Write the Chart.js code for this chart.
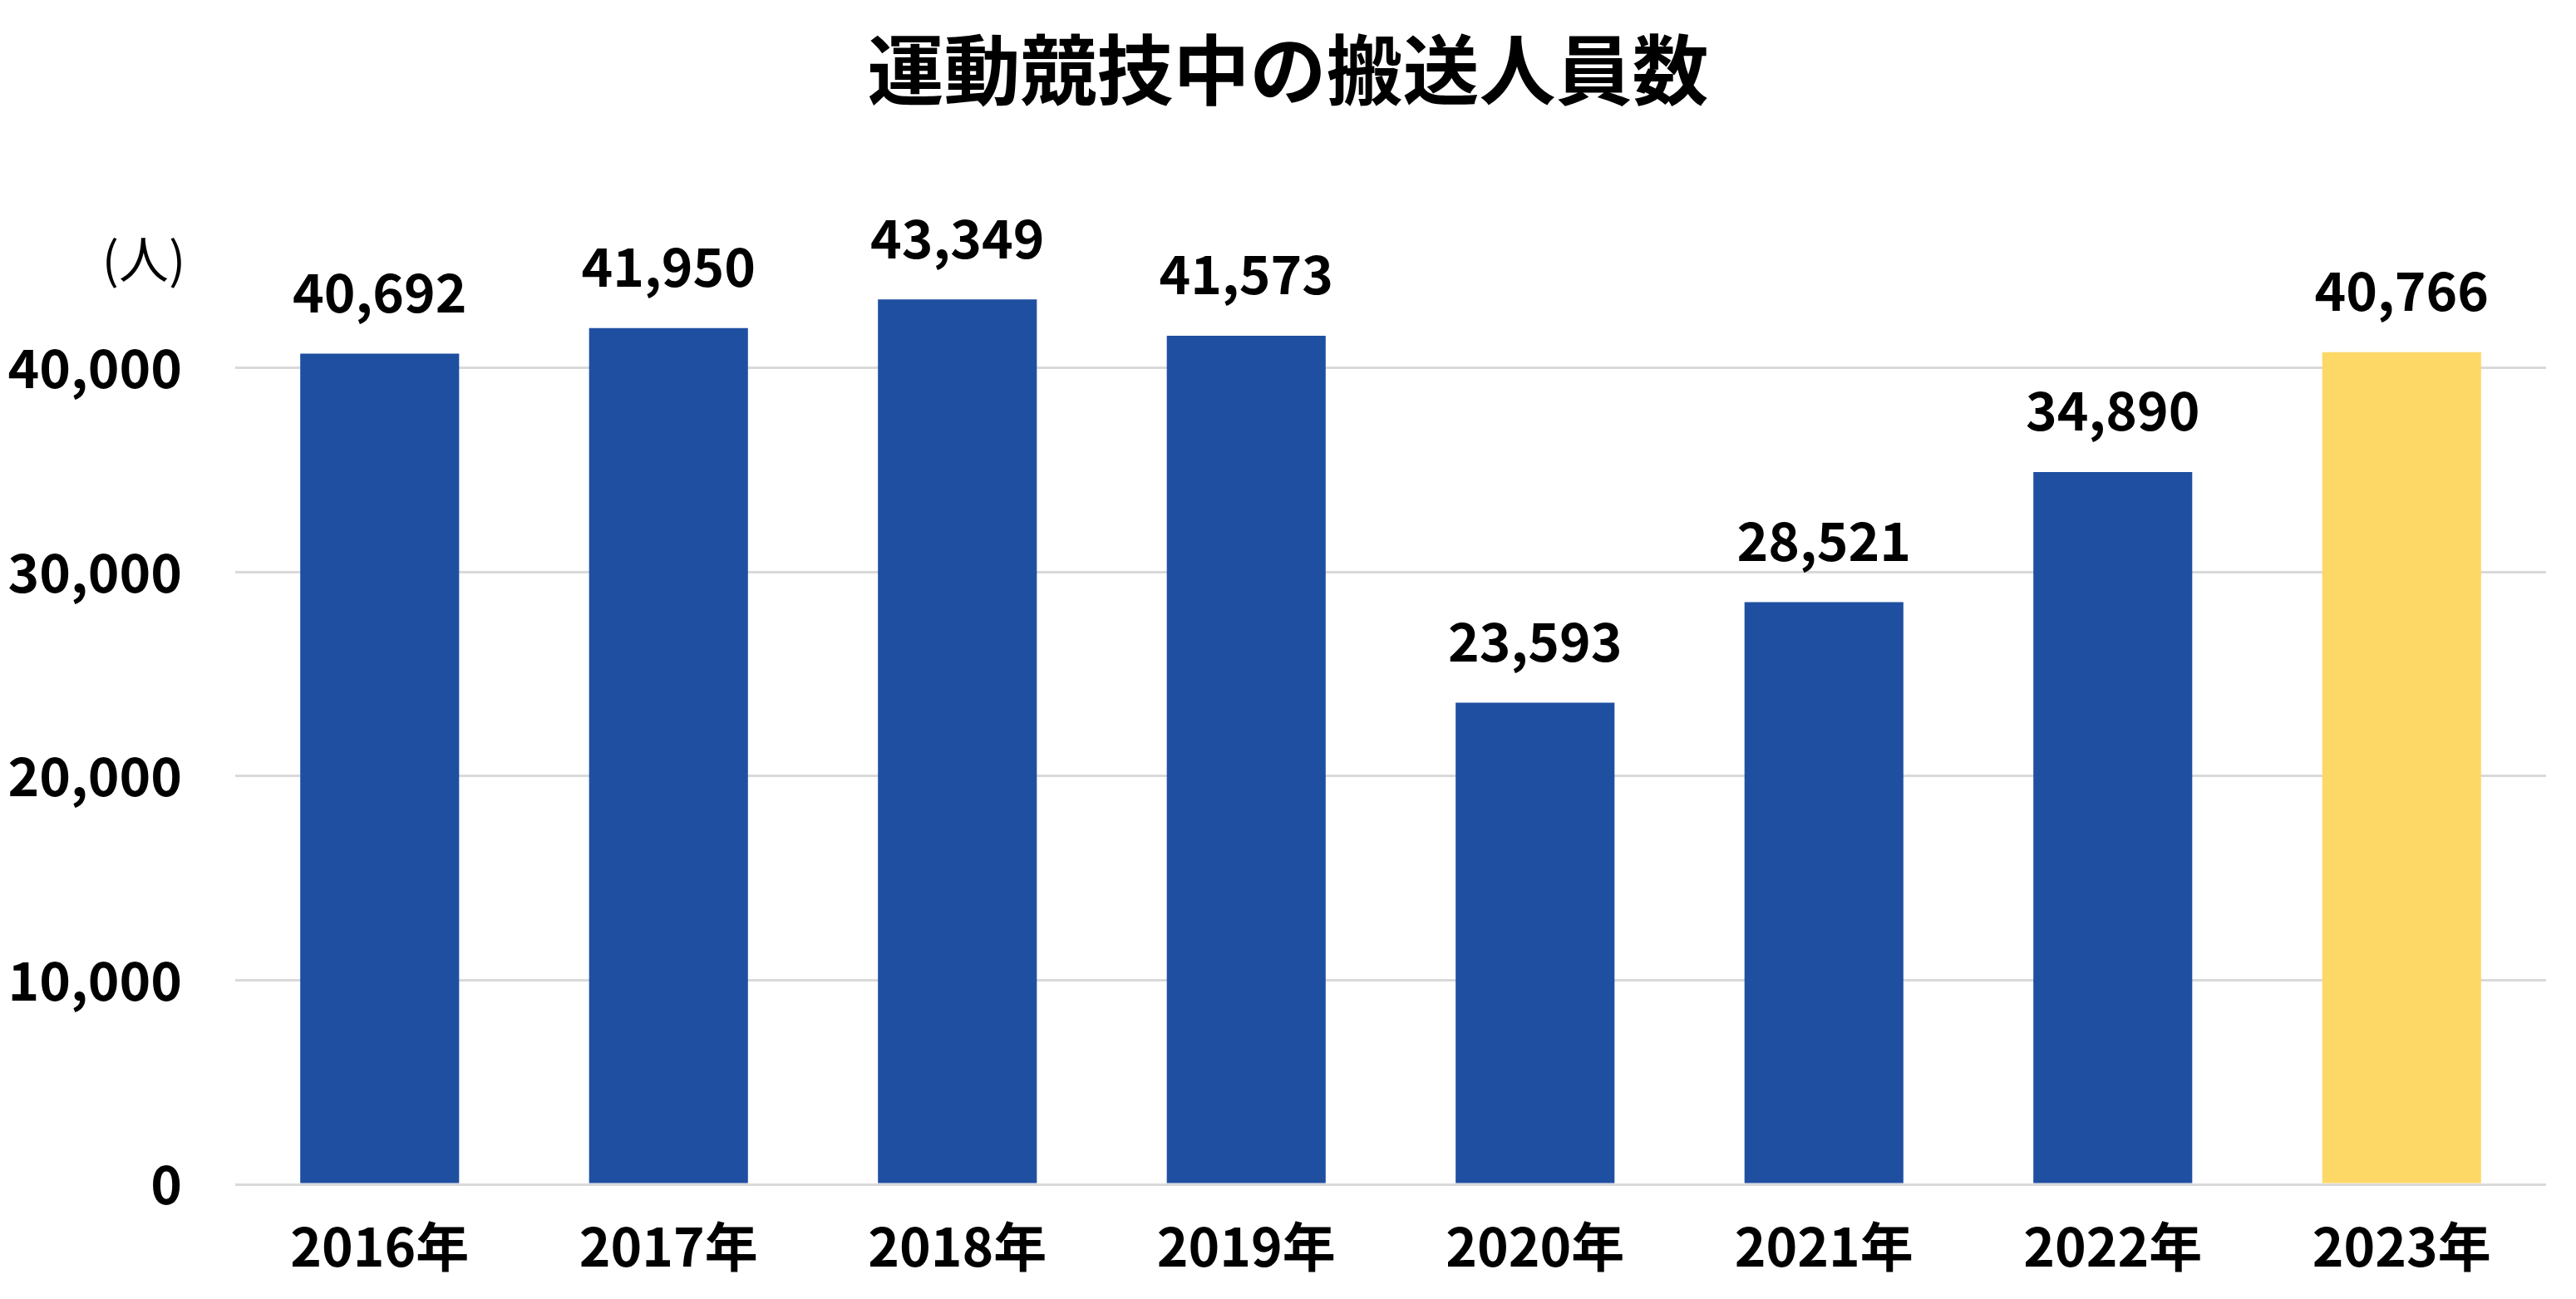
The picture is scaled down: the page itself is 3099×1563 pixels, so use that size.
<!DOCTYPE html>
<html>
<head>
<meta charset="utf-8">
<script src="https://cdn.jsdelivr.net/npm/chart.js@4.4.1/dist/chart.umd.min.js"></script>
<style>
  html, body { margin: 0; padding: 0; background: #fff; }
  #wrap { width: 3099px; height: 1563px; }
</style>
</head>
<body>
<div id="wrap"><canvas id="chart" width="3099" height="1563"></canvas></div>
<script>
const years = ["2016年", "2017年", "2018年", "2019年", "2020年", "2021年", "2022年", "2023年"];
const counts = [40692, 41950, 43349, 41573, 23593, 28521, 34890, 40766];
const barColors = ["#1F4FA1", "#1F4FA1", "#1F4FA1", "#1F4FA1", "#1F4FA1", "#1F4FA1", "#1F4FA1", "#FDD867"];
const yTicks = [0, 10000, 20000, 30000, 40000];
const chartTitle = "運動競技中の搬送人員数";
const unitLabel = "(人)";

const FONT = "'Noto Sans CJK JP', 'Noto Sans', sans-serif";

// value labels above bars, title, unit text
const labelsPlugin = {
  id: "labels",
  afterDatasetsDraw(chart) {
    const ctx = chart.ctx;
    const meta = chart.getDatasetMeta(0);
    ctx.save();
    ctx.fillStyle = "#000";
    ctx.textAlign = "center";
    ctx.textBaseline = "middle";
    ctx.font = "bold 64px " + FONT;
    meta.data.forEach((bar, i) => {
      ctx.fillText(counts[i].toLocaleString("en-US"), bar.x, bar.y - 74);
    });

    ctx.font = "bold 92px " + FONT;
    ctx.fillText(chartTitle, chart.width / 2, 84);

    ctx.font = "60px " + FONT;
    ctx.fillText(unitLabel, 173, 312);
    ctx.restore();
  }
};

new Chart(document.getElementById("chart"), {
  type: "bar",
  data: {
    labels: years,
    datasets: [{
      data: counts,
      backgroundColor: barColors,
      borderWidth: 0,
      barPercentage: 0.55,
      categoryPercentage: 1.0
    }]
  },
  options: {
    responsive: false,
    animation: false,
    layout: { padding: { top: 197, right: 36, left: 0, bottom: 0 } },
    plugins: {
      legend: { display: false },
      title: { display: false },
      tooltip: { enabled: false }
    },
    scales: {
      x: {
        grid: { display: false, drawTicks: false },
        border: { display: false },
        ticks: {
          color: "#000",
          padding: 36,
          font: { family: FONT, size: 64, weight: "bold" }
        },
        afterFit(scale) { scale.height = 138; }
      },
      y: {
        min: 0,
        max: 50000,
        afterBuildTicks(scale) {
          scale.ticks = yTicks.concat([50000]).map(v => ({ value: v }));
        },
        grid: {
          color: "#D9D9D9",
          lineWidth: 3,
          drawTicks: false
        },
        border: { display: false },
        ticks: {
          color: "#000",
          padding: 64,
          font: { family: FONT, size: 64, weight: "bold" },
          callback(v) {
            if (!yTicks.includes(v)) return null;
            return v.toLocaleString("en-US");
          }
        },
        afterFit(scale) { scale.width = 283; }
      }
    }
  },
  plugins: [labelsPlugin]
});
</script>
</body>
</html>
